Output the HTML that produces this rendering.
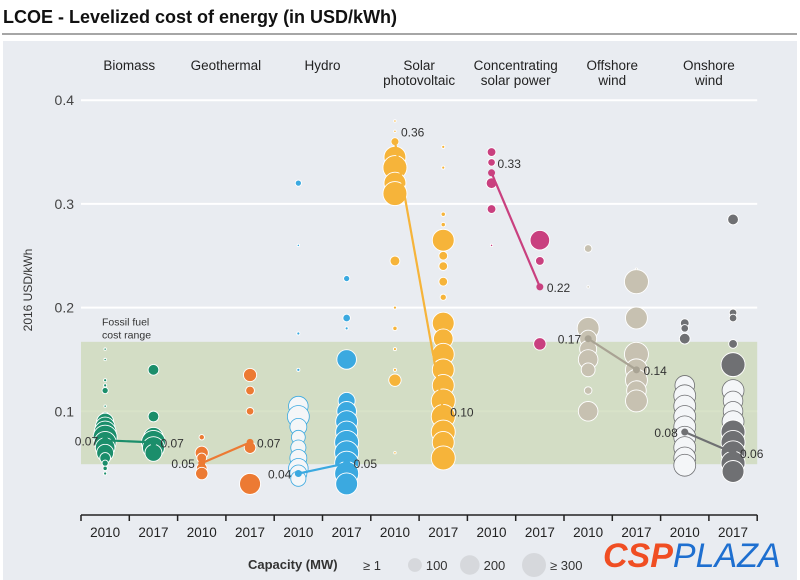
<!DOCTYPE html>
<html><head><meta charset="utf-8"><style>
body{margin:0;background:#fff;font-family:"Liberation Sans",sans-serif}
svg{display:block}
</style></head><body>
<svg width="800" height="580" viewBox="0 0 800 580">
<text x="3" y="23" font-size="18" font-weight="bold" fill="#111">LCOE - Levelized cost of energy (in USD/kWh)</text>
<line x1="2" y1="34" x2="797" y2="34" stroke="#888" stroke-width="1.5"/>
<rect x="3" y="41" width="794" height="539" fill="#e9ecf1"/>
<g id="grid"></g><g id="band"></g><g id="marks"></g><g id="axis"></g>
</svg>
<script>
const techs=["Biomass","Geothermal","Hydro","Solar|photovoltaic","Concentrating|solar power","Offshore|wind","Onshore|wind"];
const colors=["#1b8e6b","#ec7a33","#3ba9e0","#f6b43a","#c9407f","#c7c1b1","#6f7073"];
const years=["2010","2017"];
const yTicks=[0.1,0.2,0.3,0.4];
const yTickLabels=["0.1","0.2","0.3","0.4"];
const fossilRange=[0.049,0.167];
const avg2010=[0.072,0.05,0.04,0.36,0.33,0.17,0.08];
const avg2017=[0.07,0.07,0.05,0.10,0.22,0.14,0.06];
const avgLabels2010=["0.07","0.05","0.04","0.36","0.33","0.17","0.08"];
const avgLabels2017=["0.07","0.07","0.05","0.10","0.22","0.14","0.06"];
// bubbles per column: [value, capacity MW]
const bio10=[[0.16,2],[0.15,2],[0.13,5],[0.125,5],[0.12,20],[0.105,3],[0.095,40],[0.09,150],[0.085,200],[0.08,250],[0.075,300],[0.07,250],[0.065,200],[0.06,150],[0.055,60],[0.05,20],[0.045,10],[0.04,5]];
const bio17=[[0.14,60],[0.095,60],[0.075,200],[0.07,300],[0.065,250],[0.06,150]];
const geo10=[[0.075,15],[0.06,90],[0.055,50],[0.045,60],[0.04,80]];
const geo17=[[0.135,90],[0.12,40],[0.1,30],[0.065,70],[0.03,230]];
const hyd10=[[0.32,20],[0.26,1],[0.175,5],[0.14,5],[0.105,200],[0.095,250],[0.085,150],[0.075,100],[0.065,120],[0.055,150],[0.045,200],[0.04,150],[0.035,120]];
const hyd17=[[0.228,20],[0.19,30],[0.18,5],[0.15,200],[0.11,150],[0.1,200],[0.09,250],[0.08,250],[0.07,300],[0.06,300],[0.05,300],[0.04,300],[0.03,250]];
const pv10=[[0.38,3],[0.37,3],[0.36,30],[0.345,250],[0.335,300],[0.32,250],[0.31,300],[0.245,50],[0.2,5],[0.18,10],[0.16,5],[0.14,5],[0.13,80],[0.06,3]];
const pv17=[[0.355,5],[0.335,5],[0.29,10],[0.28,10],[0.265,250],[0.25,40],[0.24,40],[0.225,40],[0.21,20],[0.185,250],[0.17,200],[0.155,250],[0.14,250],[0.125,250],[0.11,300],[0.095,300],[0.08,300],[0.07,250],[0.055,300]];
const csp10=[[0.35,40],[0.34,30],[0.32,60],[0.295,40],[0.26,3]];
const csp17=[[0.265,200],[0.245,40],[0.165,80]];
const off10=[[0.257,30],[0.22,3],[0.18,250],[0.17,150],[0.16,150],[0.15,200],[0.14,100],[0.12,30],[0.1,200]];
const off17=[[0.237,3],[0.225,300],[0.19,250],[0.155,300],[0.14,250],[0.13,250],[0.12,200],[0.11,250]];
const on10=[[0.185,40],[0.18,30],[0.17,60],[0.125,200],[0.115,250],[0.105,250],[0.095,250],[0.085,250],[0.075,250],[0.065,250],[0.055,250],[0.048,250]];
const on17=[[0.285,60],[0.195,30],[0.19,30],[0.165,40],[0.145,300],[0.12,250],[0.11,200],[0.1,200],[0.09,250],[0.08,300],[0.07,300],[0.06,300],[0.05,300],[0.042,250]];
const columns=[bio10,bio17,geo10,geo17,hyd10,hyd17,pv10,pv17,csp10,csp17,off10,off17,on10,on17];
const lightCols=[4,12];
const legendCaps=[1,100,200,300];
const legendLabels=["≥ 1","100","200","≥ 300"];

const NS="http://www.w3.org/2000/svg";
const X0=81,COLW=48.3,Y0=515,YS=1037;
const yScale=v=>Y0-v*YS;
const xCol=i=>X0+COLW*(i+0.5);
const rScale=c=>Math.max(1.2,Math.sqrt(Math.min(c,300)/300)*12);
function mk(tag,attrs,parent,text){const e=document.createElementNS(NS,tag);for(const k in attrs)e.setAttribute(k,attrs[k]);if(text!==undefined)e.textContent=text;parent.appendChild(e);return e;}
const grid=document.getElementById('grid'),band=document.getElementById('band'),marks=document.getElementById('marks'),axis=document.getElementById('axis');
const XEND=X0+COLW*14;

yTicks.forEach((t,i)=>{
 const l=mk('line',{x1:X0,x2:XEND,y1:yScale(t),y2:yScale(t),stroke:'#fff','stroke-width':2},grid);
 
 
 const tx=mk('text',{x:74,y:yScale(t)+5,'text-anchor':'end','font-size':14,fill:'#444'},axis,yTickLabels[i]);
 
 
});
const br=mk('rect',{x:X0,y:yScale(fossilRange[1]),width:XEND-X0,height:yScale(fossilRange[0])-yScale(fossilRange[1]),fill:'#cbd8b6',opacity:0.75},band);


const bt=mk('text',{x:102,y:yScale(0.2)+18,'font-size':10.5,fill:'#333'},band);


mk('tspan',{x:102},bt,'Fossil fuel');mk('tspan',{x:102,dy:13},bt,'cost range');

columns.forEach((col,ci)=>{
 const tech=Math.floor(ci/2),c=colors[tech];
 col.forEach(p=>{
  const light=lightCols.includes(ci)&&p[0]<0.14 || (ci===13&&p[0]<0.13&&p[0]>0.05&&p[1]<300);
  const ci2=mk('circle',{cx:xCol(ci),cy:yScale(p[0]),r:rScale(p[1]),fill:light?'#f4f6f8':c,stroke:light?c:'#fff','stroke-width':light?0.8:0.9},marks);
  
  
 });
});
techs.forEach((t,i)=>{
 const x1=xCol(2*i),x2=xCol(2*i+1),y1=yScale(avg2010[i]),y2=yScale(avg2017[i]);
 const lc=colors[i]==="#c7c1b1"?'#a9a394':colors[i];
 const ln=mk('line',{x1,y1,x2,y2,stroke:lc,'stroke-width':2.2},marks);
 
 
 [[x1,y1],[x2,y2]].forEach(p=>{const d=mk('circle',{cx:p[0],cy:p[1],r:3.5,fill:lc},marks);
  
  });
 const leftLab=(i<=2||i>=5);
 const l1=mk('text',{x:leftLab?x1-7:x1+6,y:leftLab?y1+5:y1-5,'text-anchor':leftLab?'end':'start','font-size':12,fill:'#333'},marks,avgLabels2010[i]);
 
 
 const l2=mk('text',{x:x2+7,y:y2+5,'font-size':12,fill:'#333'},marks,avgLabels2017[i]);
 
 
 const parts=t.split('|');
 const ct=mk('text',{x:X0+COLW*(2*i+1),y:70,'text-anchor':'middle','font-size':13.5,fill:'#222'},axis);
 
 
 parts.forEach((s,k)=>mk('tspan',{x:X0+COLW*(2*i+1),dy:k?15:0},ct,s));
});
const ax=mk('line',{x1:X0,x2:XEND,y1:Y0,y2:Y0,stroke:'#222','stroke-width':1.5},axis);


for(let i=0;i<=14;i++){const tk=mk('line',{x1:X0+COLW*i,x2:X0+COLW*i,y1:Y0,y2:Y0+6,stroke:'#222','stroke-width':1.5},axis);
 
 }
for(let i=0;i<14;i++){const tl=mk('text',{x:xCol(i),y:537,'text-anchor':'middle','font-size':13.5,fill:'#222'},axis,years[i%2]);
 
 }
const yl=mk('text',{x:0,y:0,transform:'translate(32,290) rotate(-90)','text-anchor':'middle','font-size':12,fill:'#333'},axis,'2016 USD/kWh');


const lt=mk('text',{x:248,y:569,'font-size':13,'font-weight':'bold',fill:'#333'},axis,'Capacity (MW)');


const lx=[368,408,460,522];
legendCaps.forEach((c,i)=>{
 const r=rScale(c);
 const g=mk('circle',{cx:lx[i]+(i?r:0),cy:565,r:Math.max(r,1.5),fill:'#d6d8dc'},axis);
 
 
 const t=mk('text',{x:lx[i]+(i?2*r+4:-5),y:570,'font-size':13,fill:'#333'},axis,legendLabels[i]);
 
 
});
const lg=mk('text',{x:603,y:567,'font-size':34,'font-style':'italic'},axis);


mk('tspan',{fill:'#f04e23','font-weight':'bold'},lg,'CSP');
mk('tspan',{fill:'#1e6fd0'},lg,'PLAZA');
</script>
</body></html>
